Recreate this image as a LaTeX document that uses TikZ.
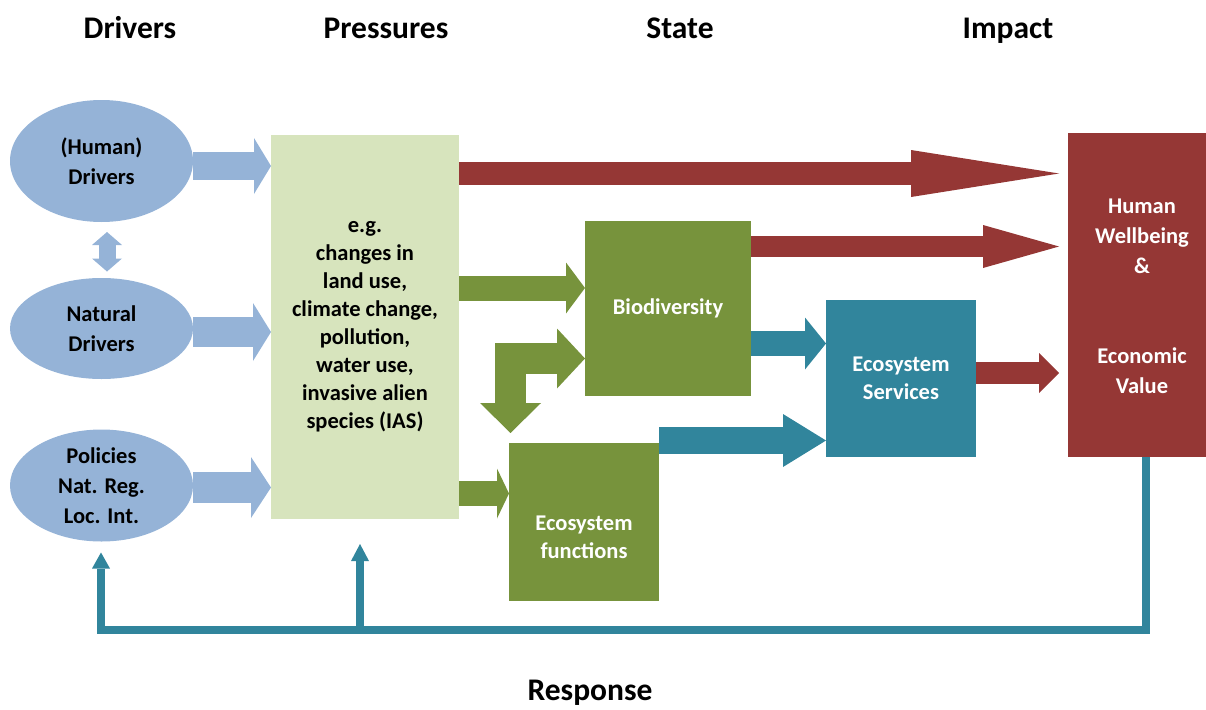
\documentclass[tikz,border=0pt]{standalone}
\usepackage{fontspec}
\setmainfont{Carlito}
\usetikzlibrary{arrows.meta,calc,shapes.geometric}

\definecolor{driverblue}{RGB}{149,179,215}
\definecolor{pressgreen}{RGB}{215,228,189}
\definecolor{stategreen}{RGB}{119,147,60}
\definecolor{serviceteal}{RGB}{49,133,156}
\definecolor{impactred}{RGB}{149,55,53}

\tikzset{
  body/.style={font=\bfseries\fontsize{22.5}{28}\selectfont, align=center},
  header/.style={font=\bfseries\fontsize{31.5}{37}\selectfont, anchor=base},
  driver/.style={ellipse, fill=driverblue, inner sep=0pt, outer sep=0pt, body,
    font=\bfseries\fontsize{22.5}{30}\selectfont, text=black, minimum width=183pt},
  box/.style={rectangle, inner sep=0pt, outer sep=0pt, body, text=white},
  % block arrow: shaft width, head length, head width, colour
  blk/.style n args={4}{draw=#4, line width=#1pt, line cap=butt,
    -{Triangle[length=#2pt, width=#3pt, line width=0pt]}},
  fbline/.style={draw=serviceteal, line width=8pt, line cap=butt, line join=miter}
}

\begin{document}
\begin{tikzpicture}[x=1pt, y=-1pt]
\useasboundingbox (0,0) rectangle (1206,709);

% column headings
\node[header] (hDrv)  at (130,38)  {Drivers};
\node[header] (hPrs)  at (386,39)  {Pressures};
\node[header] (hSt)   at (680,39)  {State};
\node[header] (hImp)  at (1008,39) {Impact};
\node[header] (hResp) at (590,700) {Response};

% drivers
\node[driver, minimum height=122pt] (hd)  at (101.5,161)   {(Human)\\Drivers};
\node[driver, minimum height=101pt] (nd)  at (101.5,328.5) {Natural\\Drivers};
\node[driver, minimum height=112pt] (pol) at (101.5,485.5) {Policies\\Nat. Reg.\\Loc. Int.};

% pressures
\node[box, fill=pressgreen, text=black, minimum width=188pt, minimum height=384pt]
  (pres) at (365,327)
  {e.g.\\changes in\\land use,\\climate change,\\pollution,\\water use,\\invasive alien\\species (IAS)};

% state
\node[box, fill=stategreen, minimum width=166pt, minimum height=175pt] (bio) at (668,308.5) {Biodiversity};
\node[box, fill=stategreen, minimum width=150pt, minimum height=158pt] (ef) at (584,522) {};
\node[body, text=white] (efl) at (584,537) {Ecosystem\\functions};
\node[box, fill=serviceteal, minimum width=150pt, minimum height=157pt] (es) at (901,378.5) {Ecosystem\\Services};

% impact
\node[box, fill=impactred, minimum width=138pt, minimum height=324pt] (hw) at (1137,295) {};
\node[body, text=white, font=\bfseries\fontsize{22.5}{30}\selectfont] (hwl) at (1142,296.5)
  {Human\\Wellbeing\\\&\\[60pt]Economic\\Value};

% drivers -> pressures
\coordinate (a1) at ($(hd.east)+(0,5)$);
\draw[blk={28}{17}{56}{driverblue}] (a1) -- (a1 -| pres.west);
\coordinate (a2) at ($(nd.east)+(0,3.5)$);
\draw[blk={30}{18}{58}{driverblue}] (a2) -- (a2 -| pres.west);
\coordinate (a3) at ($(pol.east)+(0,2)$);
\draw[blk={31}{20}{61}{driverblue}] (a3) -- (a3 -| pres.west);

% human <-> natural drivers
\coordinate (dTop) at ($(hd.south)+(5.5,10)$);
\coordinate (dBot) at ($(nd.north)+(5.5,-6.5)$);
\draw[driverblue, line width=17pt, line cap=butt,
  {Triangle[length=13pt, width=30pt, line width=0pt]}-{Triangle[length=13pt, width=30pt, line width=0pt]}]
  (dTop) -- (dBot);

% pressures -> impact
\coordinate (r1s) at (pres.east |- 0,173.5);
\coordinate (r1e) at ($(hw.west |- r1s)+(-9,0)$);
\draw[blk={23}{148}{47}{impactred}] (r1s) -- (r1e);

% pressures -> state
\coordinate (g1s) at (pres.east |- 0,288);
\draw[blk={25}{19}{51}{stategreen}] (g1s) -- (g1s -| bio.west);
\coordinate (g2s) at (pres.east |- 0,493.5);
\draw[blk={25}{12}{50}{stategreen}] (g2s) -- (g2s -| ef.west);

% biodiversity <-> ecosystem functions
\coordinate (bendTip) at ($(ef.north)+(-73.5,-10)$);
\coordinate (bendCorner) at (bendTip |- 0,358.5);
\draw[stategreen, line width=31pt, line cap=butt, line join=miter,
  {Triangle[length=30pt, width=61pt, line width=0pt]}-{Triangle[length=28pt, width=60pt, line width=0pt]}]
  (bendTip) -- (bendCorner) -- (bendCorner -| bio.west);

% biodiversity -> impact
\coordinate (r2s) at (bio.east |- 0,246.5);
\coordinate (r2e) at ($(hw.west |- r2s)+(-9,0)$);
\draw[blk={21}{76}{43}{impactred}] (r2s) -- (r2e);

% state -> ecosystem services
\coordinate (t1s) at (bio.east |- 0,343.5);
\draw[blk={25}{21}{52}{serviceteal}] (t1s) -- (t1s -| es.west);
\coordinate (t2s) at (ef.east |- 0,440.5);
\draw[blk={27}{43}{53}{serviceteal}] (t2s) -- (t2s -| es.west);

% ecosystem services -> impact
\coordinate (r3s) at (es.east |- 0,373);
\coordinate (r3e) at ($(hw.west |- r3s)+(-9,0)$);
\draw[blk={22}{20}{40}{impactred}] (r3s) -- (r3e);

% response feedback loop
\coordinate (fbR)   at ($(hw.south)+(8.5,0)$);
\coordinate (fbBR)  at (fbR |- 0,630);
\coordinate (fbTipL) at ($(pol.south)+(-0.5,11)$);
\coordinate (fbBL)  at (fbTipL |- fbBR);
\draw[fbline, -{Triangle[length=16pt, width=18pt, line width=0pt]}]
  (fbR) -- (fbBR) -- (fbBL) -- (fbTipL);
\coordinate (fbTipM) at ($(pres.south)+(-5,25)$);
\coordinate (fbM) at (fbTipM |- fbBR);
\draw[fbline, -{Triangle[length=17pt, width=18pt, line width=0pt]}] (fbM) -- (fbTipM);

\end{tikzpicture}
\end{document}
